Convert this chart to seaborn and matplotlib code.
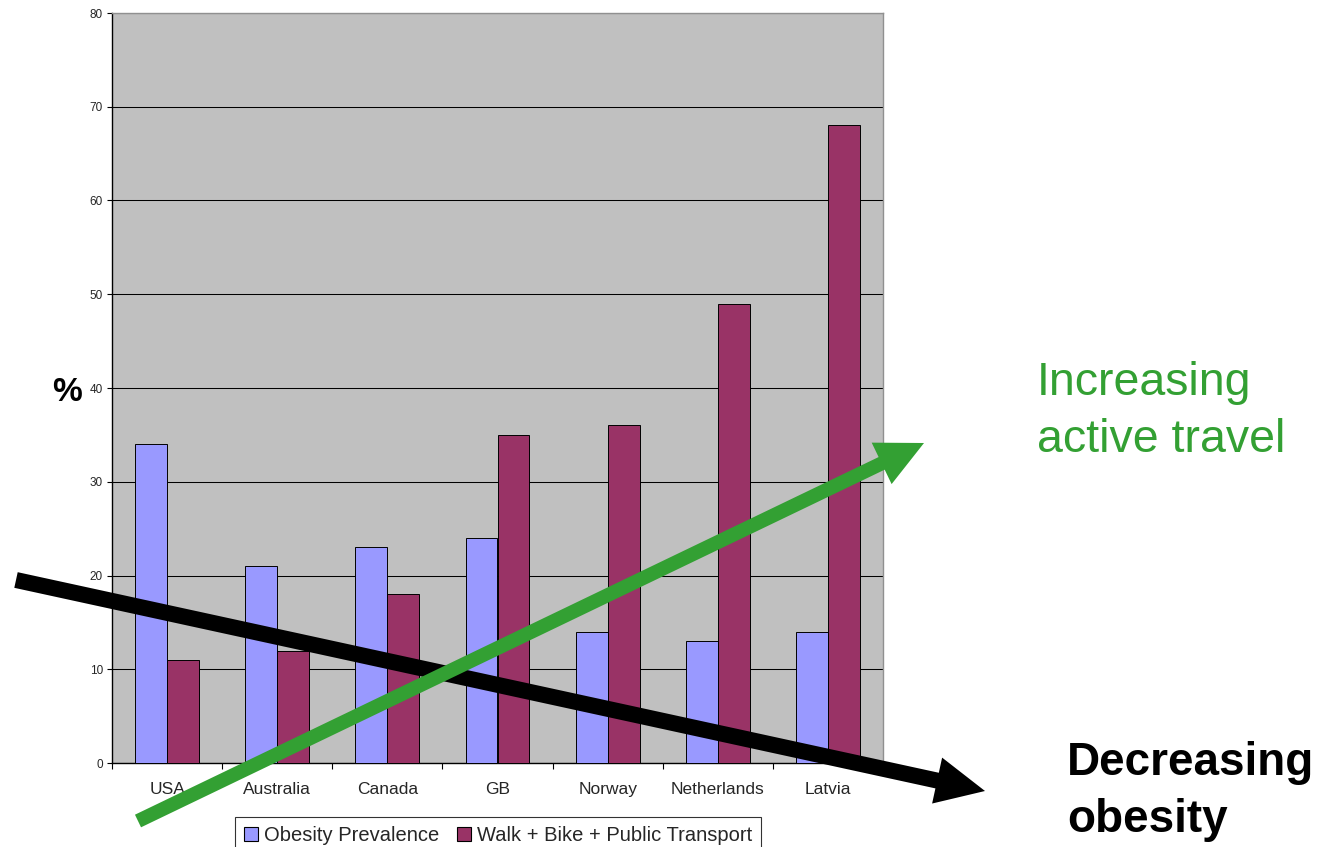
import matplotlib
matplotlib.use("Agg")
import matplotlib.pyplot as plt
import seaborn as sns
import pandas as pd
from matplotlib.patches import FancyArrow, Patch

countries = ["USA", "Australia", "Canada", "GB", "Norway", "Netherlands", "Latvia"]
obesity = [34, 21, 23, 24, 14, 13, 14]
active_travel = [11, 12, 18, 35, 36, 49, 68]
series_names = ["Obesity Prevalence", "Walk + Bike + Public Transport"]
y_ticks = [0, 10, 20, 30, 40, 50, 60, 70, 80]

df = pd.DataFrame({
    "country": countries * 2,
    "value": obesity + active_travel,
    "series": [series_names[0]] * len(countries) + [series_names[1]] * len(countries),
})

sns.set_theme(style="white")
plt.rcParams["font.family"] = ["Liberation Sans", "DejaVu Sans"]

W, H = 1334, 847
fig = plt.figure(figsize=(W / 100, H / 100), dpi=100)
ax = fig.add_axes([112 / W, 1 - 763 / H, (883 - 112) / W, (763 - 13) / H])
ax.set_facecolor("#C0C0C0")

colors = ["#9999FF", "#993366"]
sns.barplot(data=df, x="country", y="value", hue="series", palette=colors,
            saturation=1, width=0.58, gap=0, edgecolor="black", linewidth=0.7,
            ax=ax, legend=False, zorder=3)

ax.set_ylim(0, 80)
ax.set_xlim(-0.5, len(countries) - 0.5)
ax.set_yticks(y_ticks)
ax.yaxis.grid(True, color="black", linewidth=0.75, zorder=1)
ax.set_axisbelow(True)
ax.set_xlabel("")
ax.set_ylabel("")
ax.tick_params(axis="y", which="major", direction="out", length=3.5, width=0.8,
               color="black", labelsize=8.5, pad=3, left=True)
ax.set_xticks(range(len(countries)))
ax.set_xticklabels(countries)
ax.set_xticks([i - 0.5 for i in range(len(countries) + 1)], minor=True)
ax.tick_params(axis="x", which="major", length=0, labelsize=12.5, pad=13.5)
ax.tick_params(axis="x", which="minor", direction="out", length=4, width=0.8,
               color="black", bottom=True)
for s in ["left", "bottom"]:
    ax.spines[s].set_color("black")
    ax.spines[s].set_linewidth(1.0)
for s in ["top", "right"]:
    ax.spines[s].set_color("#909090")
    ax.spines[s].set_linewidth(1.0)

handles = [Patch(facecolor=c, edgecolor="black", linewidth=0.8) for c in colors]
leg = fig.legend(handles, series_names, loc="upper left",
                 bbox_to_anchor=(235 / W, 1 - 817 / H), ncol=2, fontsize=14.5,
                 frameon=True, fancybox=False, handlelength=0.7, handleheight=0.7,
                 handletextpad=0.3, columnspacing=0.85, borderpad=0.45,
                 borderaxespad=0)
leg.get_frame().set_edgecolor("black")
leg.get_frame().set_linewidth(0.8)

# overlay in pixel coordinates
ov = fig.add_axes([0, 0, 1, 1], facecolor="none")
ov.set_xlim(0, W)
ov.set_ylim(H, 0)
ov.axis("off")

green = "#33A033"

def arrow(x0, y0, x1, y1, width, head_w, head_l, color):
    ov.add_patch(FancyArrow(x0, y0, x1 - x0, y1 - y0, width=width,
                            head_width=head_w, head_length=head_l,
                            length_includes_head=True, color=color, lw=0,
                            zorder=10))

arrow(16, 580, 985, 791, 16, 47, 49, "black")
arrow(138, 821, 924, 443, 14, 46, 47, green)

ov.text(1037, 395, "Increasing", color=green, fontsize=33.5, va="baseline", ha="left")
ov.text(1037, 452, "active travel", color=green, fontsize=33.5, va="baseline", ha="left")
ov.text(1067, 775, "Decreasing", color="black", fontsize=33, fontweight="bold",
        va="baseline", ha="left")
ov.text(1067, 832, "obesity", color="black", fontsize=33, fontweight="bold",
        va="baseline", ha="left")
ov.text(52, 401, "%", color="black", fontsize=24, fontweight="bold",
        va="baseline", ha="left")

fig.savefig("out.png", dpi=100)
